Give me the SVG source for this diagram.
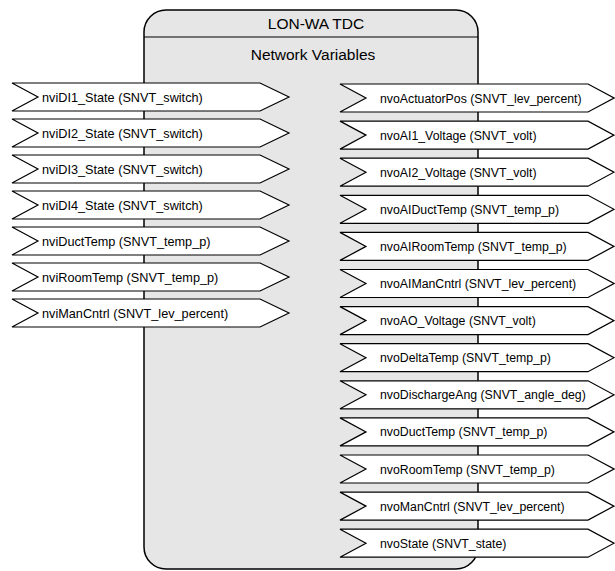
<svg xmlns="http://www.w3.org/2000/svg" width="615" height="571" viewBox="0 0 615 571">
<style>
.box{fill:#e6e6e6;stroke:#000;stroke-width:1.5}
.nv{fill:#fff;stroke:#000;stroke-width:1.2;stroke-linejoin:miter}
.t{font-family:"Liberation Sans",Arial,sans-serif;font-size:12.7px;fill:#000}
.o{font-size:12.3px}
.h{font-family:"Liberation Sans",Arial,sans-serif;font-size:15.5px;fill:#000;text-anchor:middle}
</style>
<g id="device">
<rect class="box" x="144" y="10" width="334" height="559" rx="22" ry="22"/>
<line x1="144" y1="37" x2="478" y2="37" stroke="#000" stroke-width="1.2"/>
<text class="h" x="316" y="29">LON-WA TDC</text>
<text class="h" x="313" y="60">Network Variables</text>
</g>
<g id="inputs">
<g id="in1" transform="translate(0,83)"><polygon class="nv" points="12,0 260,0 289,14 260,28 12,28 38,14"/><text class="t" x="42" y="18.5">nviDI1_State (SNVT_switch)</text></g>
<g id="in2" transform="translate(0,119)"><polygon class="nv" points="12,0 260,0 289,14 260,28 12,28 38,14"/><text class="t" x="42" y="18.5">nviDI2_State (SNVT_switch)</text></g>
<g id="in3" transform="translate(0,155)"><polygon class="nv" points="12,0 260,0 289,14 260,28 12,28 38,14"/><text class="t" x="42" y="18.5">nviDI3_State (SNVT_switch)</text></g>
<g id="in4" transform="translate(0,191)"><polygon class="nv" points="12,0 260,0 289,14 260,28 12,28 38,14"/><text class="t" x="42" y="18.5">nviDI4_State (SNVT_switch)</text></g>
<g id="in5" transform="translate(0,227)"><polygon class="nv" points="12,0 260,0 289,14 260,28 12,28 38,14"/><text class="t" x="42" y="18.5">nviDuctTemp (SNVT_temp_p)</text></g>
<g id="in6" transform="translate(0,263)"><polygon class="nv" points="12,0 260,0 289,14 260,28 12,28 38,14"/><text class="t" x="42" y="18.5">nviRoomTemp (SNVT_temp_p)</text></g>
<g id="in7" transform="translate(0,299)"><polygon class="nv" points="12,0 260,0 289,14 260,28 12,28 38,14"/><text class="t" x="42" y="18.5">nviManCntrl (SNVT_lev_percent)</text></g>
</g>
<g id="outputs">
<g id="out1" transform="translate(0,84)"><polygon class="nv" points="340,0 588,0 614,14 588,28 340,28 366,14"/><text class="t o" x="380" y="18.5">nvoActuatorPos (SNVT_lev_percent)</text></g>
<g id="out2" transform="translate(0,121.1)"><polygon class="nv" points="340,0 588,0 614,14 588,28 340,28 366,14"/><text class="t o" x="380" y="18.5">nvoAI1_Voltage (SNVT_volt)</text></g>
<g id="out3" transform="translate(0,158.2)"><polygon class="nv" points="340,0 588,0 614,14 588,28 340,28 366,14"/><text class="t o" x="380" y="18.5">nvoAI2_Voltage (SNVT_volt)</text></g>
<g id="out4" transform="translate(0,195.3)"><polygon class="nv" points="340,0 588,0 614,14 588,28 340,28 366,14"/><text class="t o" x="380" y="18.5">nvoAIDuctTemp (SNVT_temp_p)</text></g>
<g id="out5" transform="translate(0,232.4)"><polygon class="nv" points="340,0 588,0 614,14 588,28 340,28 366,14"/><text class="t o" x="380" y="18.5">nvoAIRoomTemp (SNVT_temp_p)</text></g>
<g id="out6" transform="translate(0,269.5)"><polygon class="nv" points="340,0 588,0 614,14 588,28 340,28 366,14"/><text class="t o" x="380" y="18.5">nvoAIManCntrl (SNVT_lev_percent)</text></g>
<g id="out7" transform="translate(0,306.6)"><polygon class="nv" points="340,0 588,0 614,14 588,28 340,28 366,14"/><text class="t o" x="380" y="18.5">nvoAO_Voltage (SNVT_volt)</text></g>
<g id="out8" transform="translate(0,343.7)"><polygon class="nv" points="340,0 588,0 614,14 588,28 340,28 366,14"/><text class="t o" x="380" y="18.5">nvoDeltaTemp (SNVT_temp_p)</text></g>
<g id="out9" transform="translate(0,380.8)"><polygon class="nv" points="340,0 588,0 614,14 588,28 340,28 366,14"/><text class="t o" x="380" y="18.5">nvoDischargeAng (SNVT_angle_deg)</text></g>
<g id="out10" transform="translate(0,417.9)"><polygon class="nv" points="340,0 588,0 614,14 588,28 340,28 366,14"/><text class="t o" x="380" y="18.5">nvoDuctTemp (SNVT_temp_p)</text></g>
<g id="out11" transform="translate(0,455)"><polygon class="nv" points="340,0 588,0 614,14 588,28 340,28 366,14"/><text class="t o" x="380" y="18.5">nvoRoomTemp (SNVT_temp_p)</text></g>
<g id="out12" transform="translate(0,492.1)"><polygon class="nv" points="340,0 588,0 614,14 588,28 340,28 366,14"/><text class="t o" x="380" y="18.5">nvoManCntrl (SNVT_lev_percent)</text></g>
<g id="out13" transform="translate(0,529.2)"><polygon class="nv" points="340,0 588,0 614,14 588,28 340,28 366,14"/><text class="t o" x="380" y="18.5">nvoState (SNVT_state)</text></g>
</g>
<g id="connectors"/>
</svg>
